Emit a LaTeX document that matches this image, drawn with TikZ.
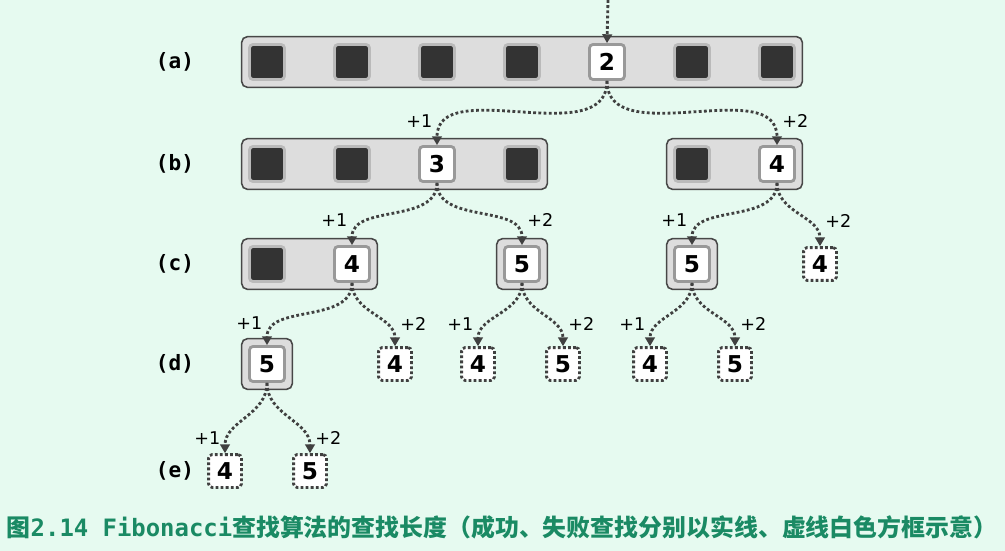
\documentclass[tikz,border=0pt]{standalone}
\usepackage{fontspec}
\setmainfont{DejaVu Sans}
\setmonofont{DejaVu Sans Mono}
\newfontfamily\cjk{Noto Sans CJK SC}
\usetikzlibrary{arrows.meta, positioning, fit, backgrounds}
\definecolor{cbg}{HTML}{E6FAF0}
\definecolor{cdark}{HTML}{333333}
\definecolor{cline}{HTML}{404040}
\definecolor{cbar}{HTML}{DDDDDD}
\definecolor{cteal}{HTML}{1A8A64}
\tikzset{
  every picture/.style={line width=1pt},
  cell/.style={draw=#1, line width=2pt, rounded corners=2.5pt, minimum size=0.875cm, inner sep=0pt},
  dk/.style={cell=black!27, fill=cdark},
  wt/.style={cell=black!40, fill=white, font=\bfseries\fontsize{16.5pt}{16pt}\selectfont},
  miss/.style={draw=cline, line width=2pt, dash pattern=on 2pt off 1.6pt, fill=white, rounded corners=2.5pt, minimum size=0.82cm, inner sep=0pt, font=\bfseries\fontsize{16.5pt}{16pt}\selectfont},
  bar/.style={draw=black!72, fill=cbar, line width=1.1pt, rounded corners=4pt, inner sep=0.16cm},
  link/.style={-{Triangle[length=2.2mm, width=2.4mm]}, draw=cline, line width=2pt, dash pattern=on 2pt off 1.7pt},
  rowlbl/.style={font=\ttfamily\bfseries\fontsize{15pt}{15pt}\selectfont},
}

\begin{document}
\begin{tikzpicture}[x=0.025cm, y=0.025cm,
  step1/.style={font=\fontsize{12.5pt}{13pt}\selectfont, pos=1, xshift=-0.44cm},
  step2/.style={font=\fontsize{12.5pt}{13pt}\selectfont, pos=1, xshift=0.46cm}]
  \useasboundingbox (0,0) rectangle (1005,-551);
  % rows of cells
  \foreach \i/\s/\t in {1/dk/, 2/dk/, 3/dk/, 4/dk/, 5/wt/2, 6/dk/, 7/dk/} \node[\s] (a\i) at ({182+85*\i}, -62) {\t};
  \foreach \n/\x/\s/\t in {b1/267/dk/, b2/352/dk/, b3/437/wt/3, b4/522/dk/, b5/692/dk/, b6/777/wt/4} \node[\s] (\n) at (\x, -164) {\t};
  \foreach \n/\x/\s/\t in {c1/267/dk/, c2/352/wt/4, c3/522/wt/5, c4/692/wt/5, c5/820/miss/4} \node[\s] (\n) at (\x, -264) {\t};
  \foreach \n/\x/\s/\t in {d1/267/wt/5, d2/395/miss/4, d3/478/miss/4, d4/563/miss/5, d5/650/miss/4, d6/735/miss/5} \node[\s] (\n) at (\x, -364) {\t};
  \foreach \n/\x/\s/\t in {e1/225/miss/4, e2/310/miss/5} \node[\s] (\n) at (\x, -471) {\t};
  \foreach \r/\y in {a/-62, b/-164, c/-264, d/-364, e/-471} \node[rowlbl] (l\r) at (175, \y) {(\r)};
  \begin{scope}[on background layer]
    \fill[cbg] (0,0) rectangle (1005,-551);
    \node[bar, fit=(a1)(a7)] (barA) {};
    \node[bar, fit=(b1)(b4)] (barB1) {};
    \node[bar, fit=(b5)(b6)] (barB2) {};
    \node[bar, fit=(c1)(c2)] (barC1) {};
    \node[bar, fit=(c3)] (barC2) {};
    \node[bar, fit=(c4)] (barC3) {};
    \node[bar, fit=(d1)] (barD1) {};
  \end{scope}
  % search steps
  \coordinate (entry) at (608, 0);
  \draw[link] (entry) -- (a5.north);
  \foreach \s/\t/\k/\dy in {a5/b3/1/0.6, a5/b6/2/0.6, b3/c2/1/0.62, b3/c3/2/0.62, b6/c4/1/0.62, b6/c5/2/0.62,
                            c2/d1/1/0.56, c2/d2/2/0.56, c3/d3/1/0.56, c3/d4/2/0.56, c4/d5/1/0.56, c4/d6/2/0.56,
                            d1/e1/1/0.38, d1/e2/2/0.38}
    \draw[link] (\s.south) to[out=-90, in=90] node[step\k, yshift=\dy cm] (p-\t) {+\k} (\t.north);
  \node[font=\ttfamily\bfseries\fontsize{17pt}{20pt}\selectfont, text=cteal] (cap) at (502, -527)
    {{\cjk 图}2.14 Fibonacci{\cjk 查找算法的查找长度（成功、失败查找分别以实线、虚线白色方框示意）}};
\end{tikzpicture}
\end{document}
